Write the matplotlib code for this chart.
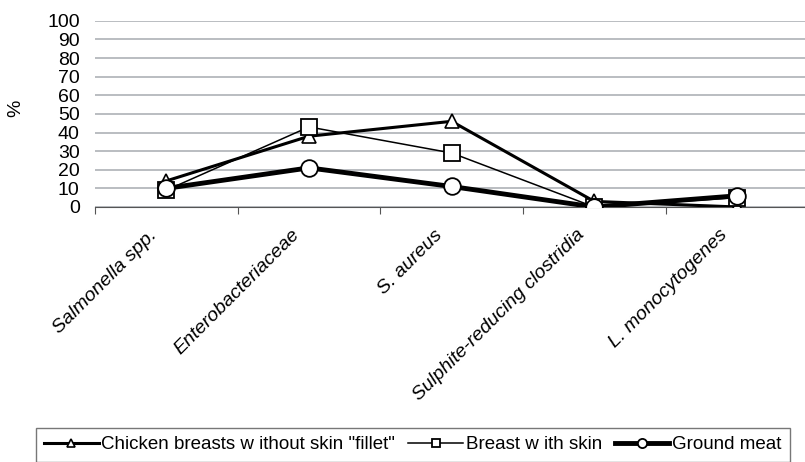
import matplotlib
matplotlib.use("Agg")
import matplotlib.pyplot as plt
import matplotlib.transforms as mtransforms
import numpy as np

plt.rcParams['font.family'] = ['Liberation Sans', 'DejaVu Sans']

categories = ['Salmonella spp.', 'Enterobacteriaceae', 'S. aureus',
              'Sulphite-reducing clostridia', 'L. monocytogenes']
fillet = [14, 38, 46, 3, 0]
with_skin = [9, 43, 29, 0, 5]
ground_meat = [10, 21, 11, 0, 6]

fig = plt.figure(figsize=(8.05, 4.62), dpi=100)
ax = fig.add_axes([0.118, 0.552, 0.886, 0.403])

x = np.arange(len(categories))

ax.plot(x, fillet, color='black', lw=2.2, marker='^', markersize=10,
        markerfacecolor='white', markeredgecolor='black', markeredgewidth=1.2,
        label='Chicken breasts w ithout skin "fillet"', zorder=3)
ax.plot(x, with_skin, color='black', lw=1.1, marker='s', markersize=11,
        markerfacecolor='white', markeredgecolor='black', markeredgewidth=1.3,
        label='Breast w ith skin', zorder=3)
ax.plot(x, ground_meat, color='black', lw=3.5, marker='o', markersize=12,
        markerfacecolor='white', markeredgecolor='black', markeredgewidth=1.3,
        label='Ground meat', zorder=4)

ax.set_xlim(-0.5, len(categories) - 0.5)
ax.set_ylim(0, 100)
ax.set_yticks(range(0, 101, 10))
ax.yaxis.grid(True, color='#b4b8bc', lw=1.3)
ax.set_axisbelow(True)
for s in ['top', 'right', 'left']:
    ax.spines[s].set_visible(False)
ax.spines['bottom'].set_color('#555555')
ax.tick_params(axis='y', length=0, labelsize=14, pad=11)
fig.text(0.019, 0.765, '%', rotation=90, fontsize=14, ha='center', va='center')

# category boundary ticks, labels at centres
ax.set_xticks(np.arange(-0.5, len(categories), 1.0))
ax.set_xticklabels([])
ax.tick_params(axis='x', which='major', length=5, color='#555555', direction='out')
ax.set_xticks(x, minor=True)
ax.set_xticklabels(categories, minor=True, rotation=45, ha='right',
                   rotation_mode='anchor', fontstyle='italic', fontsize=14)
ax.tick_params(axis='x', which='minor', length=0, pad=14)
shift = mtransforms.ScaledTranslation(-18 / 100, 0, fig.dpi_scale_trans)
for lbl in ax.get_xticklabels(minor=True):
    lbl.set_transform(lbl.get_transform() + shift)

leg = ax.legend(loc='upper center', bbox_to_anchor=(0.513, 0.074),
                bbox_transform=fig.transFigure, ncol=3, frameon=True,
                fancybox=False, edgecolor='#555555', fontsize=13.5,
                markerscale=0.55, handlelength=2.9, handletextpad=0.15,
                columnspacing=0.7, borderpad=0.45, borderaxespad=0)
leg.get_frame().set_linewidth(1.0)

fig.savefig('out.png', dpi=100)
